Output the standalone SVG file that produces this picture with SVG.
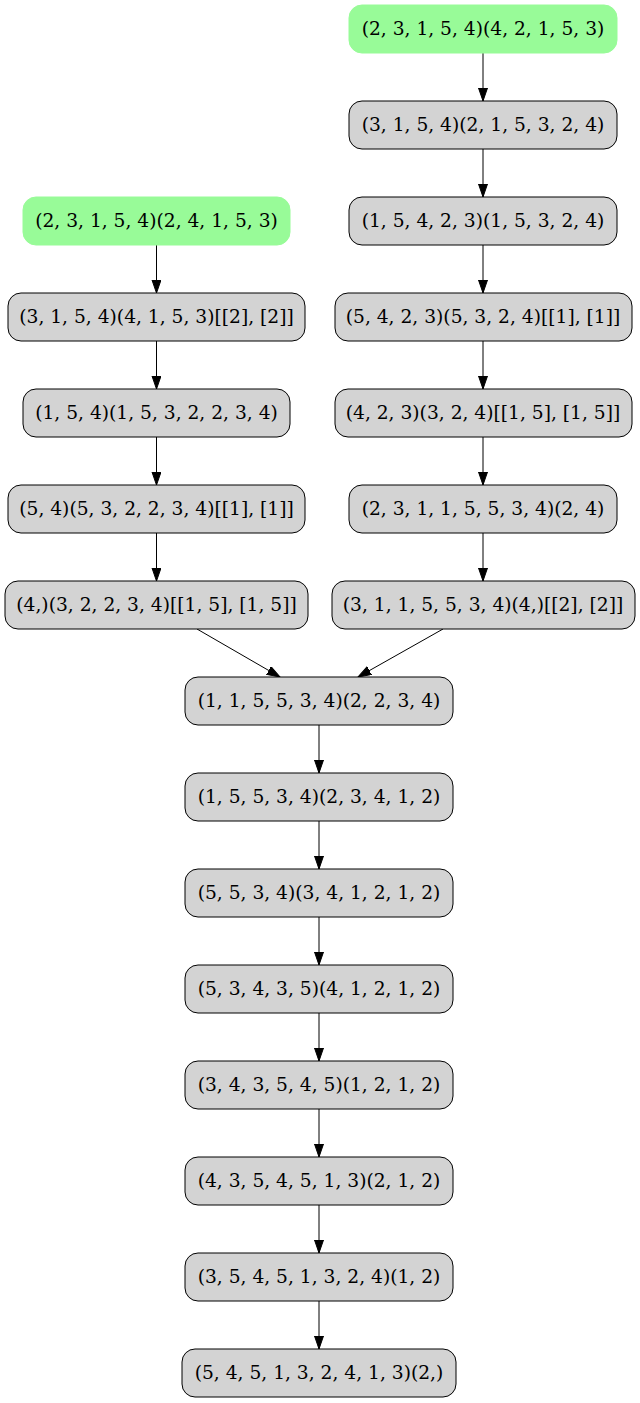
<svg xmlns="http://www.w3.org/2000/svg" width="640" height="1403" viewBox="0 0 640 1403">
<style>
.n{fill:#d3d3d3;stroke:#000;stroke-width:1}
.g{fill:#98fb98;stroke:#98fb98;stroke-width:1}
text{font-family:"DejaVu Serif",serif;font-size:18.67px;text-anchor:middle;fill:#000}
.e{stroke:#000;stroke-width:1;fill:none;marker-end:url(#ah)}
</style>
<defs>
<marker id="ah" markerUnits="userSpaceOnUse" markerWidth="14" markerHeight="10" refX="13" refY="4.5" orient="auto">
<path d="M0,0 L13,4.5 L0,9 Z" fill="#000" stroke="#000" stroke-width="1"/>
</marker>
</defs>
<rect width="640" height="1403" fill="#fff"/>
<g id="edges">
<line class="e" x1="483" y1="53" x2="483" y2="101"/>
<line class="e" x1="483" y1="149" x2="483" y2="197"/>
<line class="e" x1="483" y1="245" x2="483" y2="293"/>
<line class="e" x1="483" y1="341" x2="483" y2="389"/>
<line class="e" x1="483" y1="437" x2="483" y2="485"/>
<line class="e" x1="483" y1="533" x2="483" y2="581"/>
<line class="e" x1="156.5" y1="245" x2="156.5" y2="293"/>
<line class="e" x1="156.5" y1="341" x2="156.5" y2="389"/>
<line class="e" x1="156.5" y1="437" x2="156.5" y2="485"/>
<line class="e" x1="156.5" y1="533" x2="156.5" y2="581"/>
<line class="e" x1="197" y1="629" x2="280" y2="677"/>
<line class="e" x1="443" y1="629" x2="358" y2="677"/>
<line class="e" x1="319" y1="725" x2="319" y2="773"/>
<line class="e" x1="319" y1="821" x2="319" y2="869"/>
<line class="e" x1="319" y1="917" x2="319" y2="965"/>
<line class="e" x1="319" y1="1013" x2="319" y2="1061"/>
<line class="e" x1="319" y1="1109" x2="319" y2="1157"/>
<line class="e" x1="319" y1="1205" x2="319" y2="1253"/>
<line class="e" x1="319" y1="1301" x2="319" y2="1349"/>
</g>
<g id="r1"><rect class="g" x="349" y="5" width="268" height="48" rx="13"/><text x="483" y="35">(2, 3, 1, 5, 4)(4, 2, 1, 5, 3)</text></g>
<g id="r2"><rect class="n" x="349" y="101" width="268" height="48" rx="13"/><text x="483" y="131">(3, 1, 5, 4)(2, 1, 5, 3, 2, 4)</text></g>
<g id="r3"><rect class="n" x="349" y="197" width="268" height="48" rx="13"/><text x="483" y="227">(1, 5, 4, 2, 3)(1, 5, 3, 2, 4)</text></g>
<g id="r4"><rect class="n" x="335" y="293" width="297" height="48" rx="13"/><text x="483" y="323">(5, 4, 2, 3)(5, 3, 2, 4)[[1], [1]]</text></g>
<g id="r5"><rect class="n" x="335" y="389" width="297" height="48" rx="13"/><text x="483" y="419">(4, 2, 3)(3, 2, 4)[[1, 5], [1, 5]]</text></g>
<g id="r6"><rect class="n" x="349" y="485" width="268" height="48" rx="13"/><text x="483" y="515">(2, 3, 1, 1, 5, 5, 3, 4)(2, 4)</text></g>
<g id="r7"><rect class="n" x="332" y="581" width="303" height="48" rx="13"/><text x="483" y="611">(3, 1, 1, 5, 5, 3, 4)(4,)[[2], [2]]</text></g>
<g id="l1"><rect class="g" x="23" y="197" width="267" height="48" rx="13"/><text x="156.5" y="227">(2, 3, 1, 5, 4)(2, 4, 1, 5, 3)</text></g>
<g id="l2"><rect class="n" x="8" y="293" width="297" height="48" rx="13"/><text x="156.5" y="323">(3, 1, 5, 4)(4, 1, 5, 3)[[2], [2]]</text></g>
<g id="l3"><rect class="n" x="23" y="389" width="267" height="48" rx="13"/><text x="156.5" y="419">(1, 5, 4)(1, 5, 3, 2, 2, 3, 4)</text></g>
<g id="l4"><rect class="n" x="8" y="485" width="297" height="48" rx="13"/><text x="156.5" y="515">(5, 4)(5, 3, 2, 2, 3, 4)[[1], [1]]</text></g>
<g id="l5"><rect class="n" x="5" y="581" width="303" height="48" rx="13"/><text x="156.5" y="611">(4,)(3, 2, 2, 3, 4)[[1, 5], [1, 5]]</text></g>
<g id="m1"><rect class="n" x="185" y="677" width="268" height="48" rx="13"/><text x="319" y="707">(1, 1, 5, 5, 3, 4)(2, 2, 3, 4)</text></g>
<g id="m2"><rect class="n" x="185" y="773" width="268" height="48" rx="13"/><text x="319" y="803">(1, 5, 5, 3, 4)(2, 3, 4, 1, 2)</text></g>
<g id="m3"><rect class="n" x="185" y="869" width="268" height="48" rx="13"/><text x="319" y="899">(5, 5, 3, 4)(3, 4, 1, 2, 1, 2)</text></g>
<g id="m4"><rect class="n" x="185" y="965" width="268" height="48" rx="13"/><text x="319" y="995">(5, 3, 4, 3, 5)(4, 1, 2, 1, 2)</text></g>
<g id="m5"><rect class="n" x="185" y="1061" width="268" height="48" rx="13"/><text x="319" y="1091">(3, 4, 3, 5, 4, 5)(1, 2, 1, 2)</text></g>
<g id="m6"><rect class="n" x="185" y="1157" width="268" height="48" rx="13"/><text x="319" y="1187">(4, 3, 5, 4, 5, 1, 3)(2, 1, 2)</text></g>
<g id="m7"><rect class="n" x="185" y="1253" width="268" height="48" rx="13"/><text x="319" y="1283">(3, 5, 4, 5, 1, 3, 2, 4)(1, 2)</text></g>
<g id="m8"><rect class="n" x="182" y="1349" width="274" height="48" rx="13"/><text x="319" y="1379">(5, 4, 5, 1, 3, 2, 4, 1, 3)(2,)</text></g>
</svg>
